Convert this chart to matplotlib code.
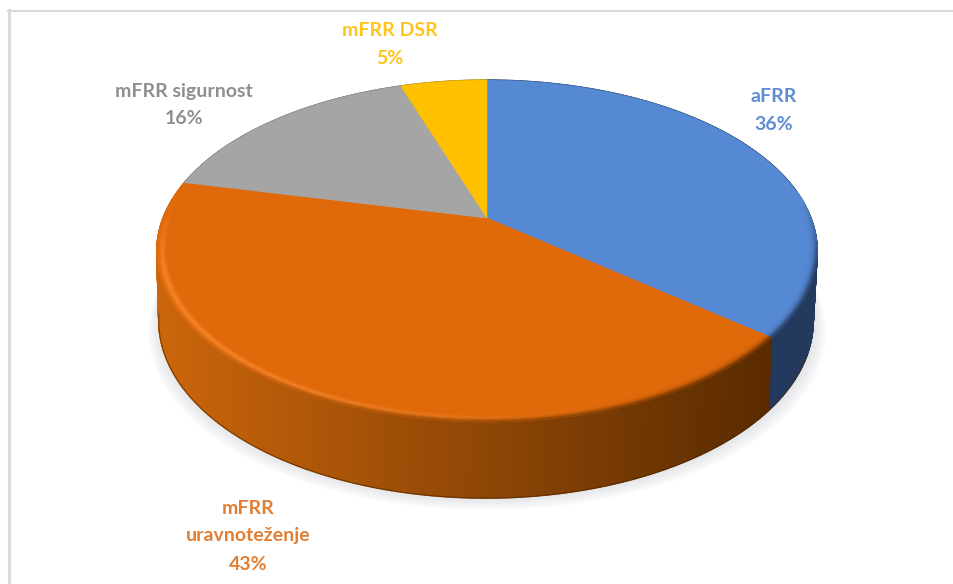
import numpy as np
import matplotlib
matplotlib.use("Agg")
import matplotlib.pyplot as plt
from matplotlib.collections import PolyCollection
from matplotlib.colors import to_rgb

categories = ["aFRR", "mFRR uravnoteženje", "mFRR sigurnost", "mFRR DSR"]
values = [36, 42.6, 16.3, 5.1]
label_lines = [["aFRR", "36%"], ["mFRR", "uravnoteženje", "43%"], ["mFRR sigurnost", "16%"], ["mFRR DSR", "5%"]]
label_xy = [[(774, 97), (774, 124)], [(248, 508), (248, 536), (248, 565)], [(184, 91), (184, 119)], [(390, 31), (390, 59)]]
top_colors = ["#5589D3", "#E0690A", "#A5A5A5", "#FFC000"]
text_colors = ["#5F8DD0", "#E07F33", "#8F8F8F", "#FFC41A"]
side_left = ["#23395E", "#CC660C", "#6E6E6E", "#A67C00"]
side_right = ["#23395E", "#5A2B00", "#6E6E6E", "#A67C00"]

CX, CY, A, B, K = 487, 218, 324, 164.6, 0.193
HIGHLIGHT = np.array(to_rgb("#F9852A"))


def project(theta, r=1.0, extrude=0.0):
    x = r * np.sin(theta)
    y = -r * np.cos(theta)
    w = 1 - K * y
    s = 1 - 0.009 * extrude
    depth = extrude * (68 + 10 * y)
    return CX - extrude + s * A * x / w, CY + s * B * y / w + depth


fig = plt.figure(figsize=(9.54, 5.84), dpi=100, facecolor="white")
ax = fig.add_axes([0, 0, 1, 1])
ax.set_xlim(0, 954)
ax.set_ylim(584, 0)
ax.axis("off")

# frame
ax.plot([9, 9], [584, 10], color="#DADADA", lw=2.2, zorder=1)
ax.plot([8, 954], [10.5, 10.5], color="#DADADA", lw=1.5, zorder=1)

# soft shadow
circle = np.linspace(0, 2 * np.pi, 361)
bx, by = project(circle, extrude=1.0)
for grow in np.linspace(14, 1, 12):
    ax.fill(CX + (bx - CX) * (1 + grow / 400) + 1, by + grow * 0.85, color="#B4BCC6",
            alpha=0.03, lw=0, zorder=2)

edges = 2 * np.pi * np.cumsum([0] + values) / sum(values)


def side_color(i, px):
    f = np.clip((px - 157) / (770 - 157), 0, 1)
    return (1 - f) * np.array(to_rgb(side_left[i])) + f * np.array(to_rgb(side_right[i]))


# side wall, back to front
quads, colors = [], []
for i in range(len(values)):
    th = np.linspace(edges[i], edges[i + 1], max(int(values[i] * 8), 4))
    for t0, t1 in zip(th[:-1], th[1:]):
        tx0, ty0 = project(t0)
        tx1, ty1 = project(t1)
        ex0, ey0 = project(t0, extrude=1.0)
        ex1, ey1 = project(t1, extrude=1.0)
        quads.append([(tx0, ty0), (tx1, ty1), (ex1, ey1), (ex0, ey0)])
        colors.append(tuple(side_color(i, tx0)))
order = np.argsort([q[0][1] for q in quads])
ax.add_collection(PolyCollection([quads[j] for j in order], facecolors=[colors[j] for j in order],
                                 edgecolors=[colors[j] for j in order], linewidths=1.0, zorder=3))

# dark rim along the bottom edge
front = np.linspace(np.pi * 0.62, np.pi * 1.45, 200)
ex, ey = project(front, extrude=1.0)
ax.plot(ex, ey, color="#4A2400", lw=0.8, alpha=0.6, zorder=4)

# top slices
for i in range(len(values)):
    th = np.linspace(edges[i], edges[i + 1], 200)
    px, py = project(th)
    ax.fill(np.r_[CX, px], np.r_[CY, py], color=top_colors[i], lw=0.4, zorder=5)

# soft bevel where the top surface meets the front wall
rings = np.linspace(0.968, 1.0, 9)
bq, bc = [], []
for i in (0, 1):
    lo = max(edges[i], 0.45 * np.pi)
    hi = min(edges[i + 1], 1.55 * np.pi)
    th = np.linspace(lo, hi, 220)
    top = np.array(to_rgb(top_colors[i]))
    for t0, t1 in zip(th[:-1], th[1:]):
        y_unit = -np.cos(t0)
        vis = np.clip((y_unit + 0.1) / 0.4, 0, 1)
        for r0, r1 in zip(rings[:-1], rings[1:]):
            x00, y00 = project(t0, r0)
            x10, y10 = project(t1, r0)
            x11, y11 = project(t1, r1)
            x01, y01 = project(t0, r1)
            u = ((r0 + r1) / 2 - rings[0]) / (rings[-1] - rings[0])
            hs = np.clip((640 - x00) / 320, 0, 1) * vis if i == 1 else 0.0
            bump = np.exp(-((u - 0.55) / 0.28) ** 2)
            c = top + (HIGHLIGHT - top) * hs * bump
            dark_amt = (u ** 3) * vis * (1.0 - 0.75 * np.clip((300 - x00) / 130, 0, 1))
            c = c + (side_color(i, x00) - c) * dark_amt
            bq.append([(x00, y00), (x10, y10), (x11, y11), (x01, y01)])
            bc.append(tuple(c))
ax.add_collection(PolyCollection(bq, facecolors=bc, edgecolors=bc, linewidths=0.5, zorder=6))

# labels
for lines, xy, c in zip(label_lines, label_xy, text_colors):
    for line, (lx, ly) in zip(lines, xy):
        ax.text(lx, ly, line, color=c, ha="center", va="center", family="Lato",
                fontweight="bold", fontsize=14, zorder=7)

fig.savefig("out.png", dpi=100, facecolor="white")
